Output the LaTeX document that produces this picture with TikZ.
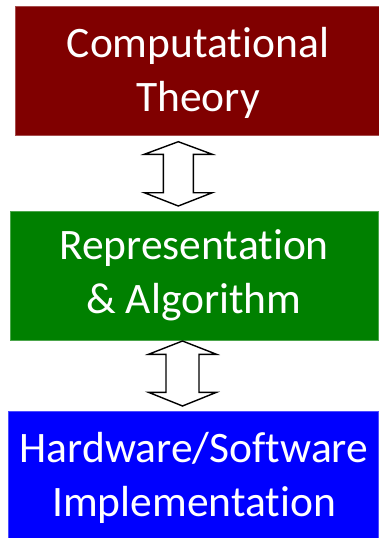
\documentclass[tikz,border=0pt]{standalone}
\usepackage{fontspec}
\setmainfont{Carlito}[Ligatures={NoCommon,NoContextual}]
\usetikzlibrary{calc}
\definecolor{theorycol}{HTML}{800000}
\definecolor{algocol}{HTML}{008000}
\definecolor{implcol}{HTML}{0000FF}
\tikzset{
  layerbox/.style={draw=#1!70!white, line width=0.6pt, fill=#1, inner sep=0pt, anchor=north west},
  layertext/.style={text=white, align=center, font=\fontsize{43.5}{54}\selectfont, inner sep=0pt, anchor=base},
  dblarrow/.style={draw=black, line width=1.4pt, fill=white, line join=miter}
}
\begin{document}
\begin{tikzpicture}[x=1pt, y=-1pt]
  \useasboundingbox (0,0) rectangle (378,538);
  % the three layers
  \node[layerbox=theorycol, minimum width=364pt, minimum height=129pt] (theory) at (15,6) {};
  \node[layerbox=algocol, minimum width=368pt, minimum height=129pt] (algo) at (10,211) {};
  \node[layerbox=implcol, minimum width=370pt, minimum height=128pt] (impl) at (8,411) {};
  % captions, anchored at the baseline of their last line
  \node[layertext] (theorytext) at (198,111) {Computational\\Theory};
  \node[layertext] (algotext) at (194,313) {Representation\\\& Algorithm};
  \node[layertext] (impltext) at (194,516) {Hardware/Software\\Implementation};
  % two-headed block arrows between neighbouring layers
  \coordinate (a1) at (178.3,141.7);
  \coordinate (a2) at (182.5,341);
  \draw[dblarrow] (a1) -- ++(34,12.6) -- ++(-19,0) -- ++(0,38.4) -- ++(19,0)
    -- ++(-34,13.3) -- ++(-34,-13.3) -- ++(19,0) -- ++(0,-38.4) -- ++(-19,0) -- cycle;
  \draw[dblarrow] (a2) -- ++(34,13.3) -- ++(-17.5,0) -- ++(0,38) -- ++(17.5,0)
    -- ++(-34,13.7) -- ++(-34,-13.7) -- ++(17.5,0) -- ++(0,-38) -- ++(-17.5,0) -- cycle;
\end{tikzpicture}
\end{document}
